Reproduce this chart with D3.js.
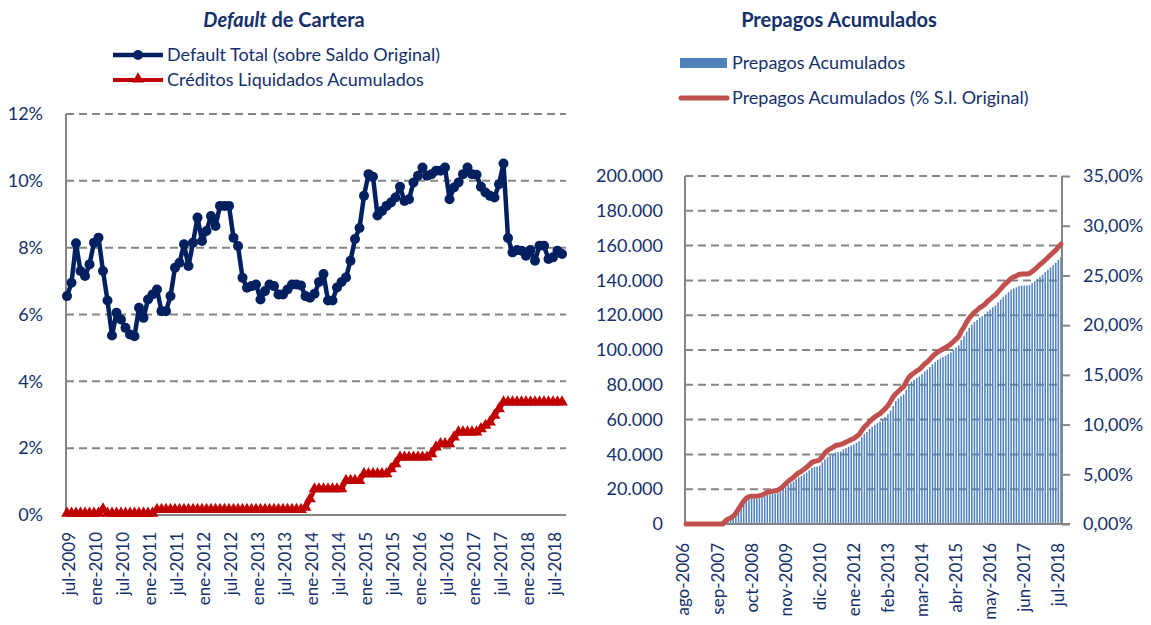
<!DOCTYPE html>
<html>
<head>
<meta charset="utf-8">
<script src="https://cdn.jsdelivr.net/npm/d3@7"></script>
<style>
  body { margin: 0; background: #fff; }
  svg text { font-family: Lato, "Open Sans", sans-serif; fill: #14306b; }
</style>
</head>
<body>
<div id="chart"></div>
<script>
// ---- Default de Cartera (monthly, jul-2009 .. sep-2018), values in %
const defaultTotal = [
  6.55, 6.95, 8.13, 7.3, 7.15, 7.5, 8.15, 8.3, 7.3, 6.42,
  5.37, 6.05, 5.85, 5.6, 5.4, 5.35, 6.2, 5.9, 6.45, 6.6,
  6.75, 6.1, 6.1, 6.55, 7.4, 7.55, 8.1, 7.45, 8.15, 8.9,
  8.2, 8.5, 8.95, 8.65, 9.25, 9.25, 9.25, 8.3, 8.05, 7.1,
  6.8, 6.85, 6.9, 6.45, 6.7, 6.9, 6.85, 6.6, 6.6, 6.75,
  6.9, 6.9, 6.87, 6.55, 6.5, 6.62, 6.97, 7.21, 6.42, 6.42,
  6.81, 6.97, 7.11, 7.61, 8.26, 8.59, 9.55, 10.2, 10.12, 8.96,
  9.1, 9.25, 9.35, 9.5, 9.82, 9.4, 9.45, 9.95, 10.15, 10.4,
  10.15, 10.2, 10.3, 10.3, 10.4, 9.45, 9.8, 9.95, 10.2, 10.4,
  10.2, 10.18, 9.82, 9.65, 9.55, 9.5, 9.9, 10.52, 8.29, 7.86,
  7.93, 7.91, 7.76, 7.93, 7.61, 8.06, 8.06, 7.66, 7.71, 7.91,
  7.81
];
const creditosLiquidados = [
  0.02, 0.02, 0.02, 0.02, 0.02, 0.02, 0.02, 0.02, 0.15, 0.02,
  0.02, 0.02, 0.02, 0.02, 0.02, 0.02, 0.02, 0.02, 0.02, 0.02,
  0.13, 0.13, 0.13, 0.13, 0.13, 0.13, 0.13, 0.13, 0.13, 0.13,
  0.13, 0.13, 0.13, 0.13, 0.13, 0.13, 0.13, 0.13, 0.13, 0.13,
  0.13, 0.13, 0.13, 0.13, 0.13, 0.13, 0.13, 0.13, 0.13, 0.13,
  0.13, 0.13, 0.13, 0.2, 0.45, 0.75, 0.75, 0.75, 0.75, 0.75,
  0.75, 0.75, 1.0, 1.0, 1.0, 1.0, 1.2, 1.2, 1.2, 1.2,
  1.2, 1.2, 1.35, 1.5, 1.7, 1.7, 1.7, 1.7, 1.7, 1.7,
  1.7, 1.8, 2.0, 2.1, 2.1, 2.1, 2.3, 2.45, 2.45, 2.45,
  2.45, 2.45, 2.55, 2.65, 2.75, 2.95, 3.15, 3.35, 3.35, 3.35,
  3.35, 3.35, 3.35, 3.35, 3.35, 3.35, 3.35, 3.35, 3.35, 3.35,
  3.35
];
const defaultTicks = ["jul-2009", "ene-2010", "jul-2010", "ene-2011", "jul-2011", "ene-2012",
  "jul-2012", "ene-2013", "jul-2013", "ene-2014", "jul-2014", "ene-2015", "jul-2015",
  "ene-2016", "jul-2016", "ene-2017", "jul-2017", "ene-2018", "jul-2018"];
const defaultYTicks = [0, 2, 4, 6, 8, 10, 12];

// ---- Prepagos Acumulados (monthly, ago-2006 .. jul-2018)
const prepagosAcum = [ // thousands
  0, 0, 0, 0, 0, 0, 0, 0, 0, 0,
  0, 0, 0, 0, 0, 1.6, 2.6, 3.1, 4.2, 5.7,
  7.8, 9.9, 12.0, 13.5, 14.3, 14.6, 14.6, 14.6, 14.8, 15.1,
  15.9, 16.6, 16.9, 17.2, 17.4, 17.7, 18.5, 19.8, 21.1, 22.4,
  23.4, 24.4, 25.7, 26.8, 27.6, 28.6, 29.6, 30.9, 32.2, 32.8,
  33.0, 33.5, 35.4, 37.2, 38.5, 39.3, 40.0, 41.1, 41.3, 41.6,
  42.9, 43.7, 44.3, 45.1, 45.6, 46.6, 47.7, 49.8, 51.7, 53.0,
  54.6, 55.9, 57.0, 58.0, 58.8, 60.2, 61.5, 63.1, 65.2, 67.8,
  70.7, 72.1, 73.4, 74.5, 77.2, 79.7, 81.8, 82.8, 83.9, 84.7,
  86.1, 87.7, 88.8, 90.2, 91.8, 93.2, 94.3, 95.1, 95.9, 96.7,
  97.6, 98.6, 100.0, 101.4, 102.7, 105.7, 107.9, 110.6, 112.8, 114.5,
  116.1, 117.2, 118.5, 119.4, 120.4, 122.1, 123.2, 124.5, 125.6, 127.3,
  128.9, 130.5, 131.9, 133.3, 134.6, 135.4, 136.0, 136.8, 137.1, 137.1,
  137.1, 137.3, 138.4, 139.5, 140.9, 142.2, 143.3, 144.7, 146.1, 147.4,
  148.8, 150.1, 151.8, 153.4
];
const prepagosPct = [ // % of original balance
  0, 0, 0, 0, 0, 0, 0, 0, 0, 0,
  0, 0, 0, 0, 0, 0.3, 0.5, 0.6, 0.8, 1.1,
  1.5, 1.9, 2.3, 2.6, 2.75, 2.8, 2.8, 2.8, 2.85, 2.9,
  3.05, 3.2, 3.25, 3.3, 3.35, 3.4, 3.55, 3.8, 4.05, 4.3,
  4.5, 4.7, 4.95, 5.15, 5.3, 5.5, 5.7, 5.95, 6.2, 6.3,
  6.35, 6.45, 6.8, 7.15, 7.4, 7.55, 7.7, 7.9, 7.95, 8.0,
  8.1, 8.25, 8.35, 8.5, 8.6, 8.8, 9.0, 9.4, 9.75, 10.0,
  10.3, 10.55, 10.75, 10.95, 11.1, 11.35, 11.6, 11.9, 12.3, 12.8,
  13.1, 13.35, 13.6, 13.8, 14.3, 14.75, 15.0, 15.2, 15.4, 15.55,
  15.8, 16.1, 16.3, 16.55, 16.85, 17.1, 17.3, 17.45, 17.6, 17.75,
  17.9, 18.1, 18.35, 18.6, 18.85, 19.4, 19.8, 20.3, 20.7, 21.0,
  21.3, 21.5, 21.75, 21.9, 22.1, 22.4, 22.6, 22.85, 23.05, 23.35,
  23.65, 23.95, 24.2, 24.45, 24.7, 24.85, 24.95, 25.1, 25.15, 25.15,
  25.15, 25.2, 25.4, 25.6, 25.85, 26.1, 26.3, 26.55, 26.8, 27.05,
  27.3, 27.55, 27.85, 28.15
];
const prepagosTicks = ["ago-2006", "sep-2007", "oct-2008", "nov-2009", "dic-2010", "ene-2012",
  "feb-2013", "mar-2014", "abr-2015", "may-2016", "jun-2017", "jul-2018"];
const prepagosYTicks = [0, 20, 40, 60, 80, 100, 120, 140, 160, 180, 200];
const prepagosPctTicks = [0, 5, 10, 15, 20, 25, 30, 35];

const meses = ["ene", "feb", "mar", "abr", "may", "jun", "jul", "ago", "sep", "oct", "nov", "dic"];
const monthSeq = (year, month, n) => d3.range(n)
  .map(i => meses[(month + i) % 12] + "-" + (year + Math.floor((month + i) / 12)));

const esLocale = d3.formatLocale({ decimal: ",", thousands: ".", grouping: [3], currency: ["", "€"] });

const gridColor = "#858585";
const navy = "#002060";

const svg = d3.select("#chart").append("svg")
    .attr("width", 1151)
    .attr("height", 625);

function grid(g, scale, ticks, x0, x1) {
  g.selectAll("line.grid").data(ticks).join("line")
      .attr("class", "grid")
      .attr("x1", x0).attr("x2", x1)
      .attr("y1", d => scale(d)).attr("y2", d => scale(d))
      .attr("stroke", gridColor)
      .attr("stroke-width", 2)
      .attr("stroke-dasharray", "8,5");
}

function styleAxis(g, size) {
  g.select(".domain").remove();
  g.selectAll(".tick line").remove();
  g.selectAll("text").style("font-size", size + "px").attr("fill", "#14306b");
}

// ================= Left chart =================
function DefaultChart() {
  const left = 66, right = 566, top = 114, bottom = 515;
  const g = svg.append("g");

  const cats = monthSeq(2009, 6, defaultTotal.length);
  const x = d3.scalePoint().domain(cats).range([67, 562]);
  const y = d3.scaleLinear().domain([0, 12]).range([bottom, top]);

  grid(g, y, defaultYTicks.filter(d => d > 0), left, right);

  g.append("line")
      .attr("x1", left).attr("x2", left).attr("y1", top).attr("y2", bottom)
      .attr("stroke", gridColor).attr("stroke-width", 2);
  g.append("line")
      .attr("x1", left).attr("x2", right).attr("y1", bottom).attr("y2", bottom)
      .attr("stroke", gridColor).attr("stroke-width", 2);

  g.append("g")
      .attr("transform", `translate(${left},0)`)
      .call(d3.axisLeft(y).tickValues(defaultYTicks).tickFormat(d => d + "%").tickPadding(23).tickSize(0))
      .call(a => styleAxis(a, 18));

  g.append("g")
      .attr("transform", `translate(0,${bottom})`)
      .call(d3.axisBottom(x).tickValues(defaultTicks).tickSize(0))
      .call(a => styleAxis(a, 17))
      .selectAll("text")
      .attr("transform", "rotate(-90)")
      .attr("text-anchor", "end")
      .attr("dx", "-17px")
      .attr("dy", "0.45em")
      .attr("y", 0);

  // red triangles series
  const tri = d3.symbol().type(d3.symbolTriangle).size(60);
  const lineRed = d3.line().x((d, i) => x(cats[i])).y(d => y(d));
  g.append("path")
      .datum(creditosLiquidados)
      .attr("d", lineRed)
      .attr("fill", "none")
      .attr("stroke", "#C00000")
      .attr("stroke-width", 4);
  g.selectAll("path.tri").data(creditosLiquidados).join("path")
      .attr("class", "tri")
      .attr("d", tri)
      .attr("transform", (d, i) => `translate(${x(cats[i])},${y(d) - 1})`)
      .attr("fill", "#C00000");

  // navy dots series
  const lineBlue = d3.line().x((d, i) => x(cats[i])).y(d => y(d));
  g.append("path")
      .datum(defaultTotal)
      .attr("d", lineBlue)
      .attr("fill", "none")
      .attr("stroke", navy)
      .attr("stroke-width", 4.5)
      .attr("stroke-linejoin", "round");
  g.selectAll("circle.dot").data(defaultTotal).join("circle")
      .attr("class", "dot")
      .attr("cx", (d, i) => x(cats[i]))
      .attr("cy", d => y(d))
      .attr("r", 5)
      .attr("fill", navy);

  // title
  const t = g.append("text")
      .attr("x", 284).attr("y", 27)
      .attr("text-anchor", "middle")
      .style("font-size", "20px")
      .style("font-weight", "bold");
  t.append("tspan").style("font-style", "italic").text("Default");
  t.append("tspan").text(" de Cartera");

  // legend
  const leg = g.append("g");
  leg.append("line").attr("x1", 113).attr("x2", 163).attr("y1", 55).attr("y2", 55)
      .attr("stroke", navy).attr("stroke-width", 4.5);
  leg.append("circle").attr("cx", 138).attr("cy", 55).attr("r", 5).attr("fill", navy);
  leg.append("text").attr("x", 167).attr("y", 61).style("font-size", "18px")
      .text("Default Total (sobre Saldo Original)");
  leg.append("line").attr("x1", 113).attr("x2", 163).attr("y1", 80).attr("y2", 80)
      .attr("stroke", "#C00000").attr("stroke-width", 4);
  leg.append("path").attr("d", tri).attr("transform", "translate(138,79)").attr("fill", "#C00000");
  leg.append("text").attr("x", 167).attr("y", 86).style("font-size", "18px")
      .text("Créditos Liquidados Acumulados");
}

// ================= Right chart =================
function PrepagosChart() {
  const left = 685, right = 1062, top = 176, bottom = 524;
  const g = svg.append("g");

  const cats = monthSeq(2006, 7, prepagosAcum.length);
  const x = d3.scaleBand().domain(cats).range([left, right]).paddingInner(0.42).paddingOuter(0.1);
  const y = d3.scaleLinear().domain([0, 200]).range([bottom, top]);
  const y2 = d3.scaleLinear().domain([0, 35]).range([bottom, top]);

  grid(g, y, prepagosYTicks.filter(d => d > 0), left, right);

  g.selectAll("rect.bar").data(prepagosAcum).join("rect")
      .attr("class", "bar")
      .attr("x", (d, i) => x(cats[i]))
      .attr("width", x.bandwidth())
      .attr("y", d => y(d))
      .attr("height", d => bottom - y(d))
      .attr("fill", "#4F81BD");

  [left, right].forEach(xx => g.append("line")
      .attr("x1", xx).attr("x2", xx).attr("y1", top).attr("y2", bottom)
      .attr("stroke", gridColor).attr("stroke-width", 2));
  g.append("line")
      .attr("x1", left).attr("x2", right + 8).attr("y1", bottom).attr("y2", bottom)
      .attr("stroke", gridColor).attr("stroke-width", 2);

  g.append("g")
      .attr("transform", `translate(${left},0)`)
      .call(d3.axisLeft(y).tickValues(prepagosYTicks)
        .tickFormat(d => esLocale.format(",")(d * 1000)).tickPadding(22).tickSize(0))
      .call(a => styleAxis(a, 18));

  const rAxis = g.append("g")
      .attr("transform", `translate(${right},0)`)
      .call(d3.axisRight(y2).tickValues(prepagosPctTicks)
        .tickFormat(d => esLocale.format(".2f")(d) + "%").tickSize(8).tickPadding(13));
  rAxis.select(".domain").remove();
  rAxis.selectAll(".tick line").attr("stroke", gridColor).attr("stroke-width", 2);
  rAxis.selectAll("text").style("font-size", "18px").attr("fill", "#14306b");

  g.append("g")
      .attr("transform", `translate(0,${bottom})`)
      .call(d3.axisBottom(x).tickValues(prepagosTicks).tickSize(0))
      .call(a => styleAxis(a, 17))
      .selectAll("text")
      .attr("transform", "rotate(-90)")
      .attr("text-anchor", "end")
      .attr("dx", "-19px")
      .attr("dy", "0.2em")
      .attr("y", 0);

  const line = d3.line().x((d, i) => x(cats[i]) + x.bandwidth() / 2).y(d => y2(d));
  g.append("path")
      .datum(prepagosPct)
      .attr("d", line)
      .attr("fill", "none")
      .attr("stroke", "#C0504D")
      .attr("stroke-width", 5)
      .attr("stroke-linejoin", "round")
      .attr("stroke-linecap", "round");

  g.append("text")
      .attr("x", 839).attr("y", 27)
      .attr("text-anchor", "middle")
      .style("font-size", "20px")
      .style("font-weight", "bold")
      .text("Prepagos Acumulados");

  const leg = g.append("g");
  leg.append("rect").attr("x", 680).attr("y", 58).attr("width", 47).attr("height", 10).attr("fill", "#4F81BD");
  leg.append("text").attr("x", 732).attr("y", 69).style("font-size", "18px").text("Prepagos Acumulados");
  leg.append("line").attr("x1", 681).attr("x2", 727).attr("y1", 98).attr("y2", 98)
      .attr("stroke", "#C0504D").attr("stroke-width", 5).attr("stroke-linecap", "round");
  leg.append("text").attr("x", 732).attr("y", 104).style("font-size", "18px")
      .text("Prepagos Acumulados (% S.I. Original)");
}

DefaultChart();
PrepagosChart();
</script>
</body>
</html>
